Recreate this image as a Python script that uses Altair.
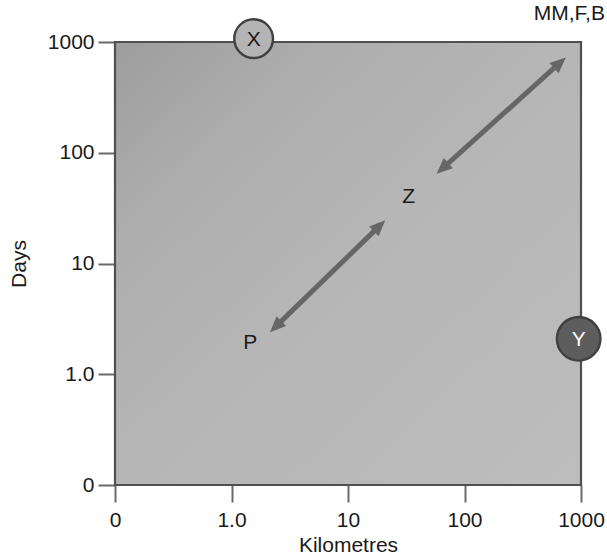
import json
import math
import altair as alt
import pandas as pd

# ---- data (log-unit positions) ----
tick_pos = [0, 1, 2, 3, 4]
x_tick_labels = ["0", "1.0", "10", "100", "1000"]
y_tick_labels = ["0", "1.0", "10", "100", "1000"]

circle_names = ["X", "Y"]
circle_x = [1.19, 3.98]
circle_y = [4.03, 1.32]
circle_fill = ["#b4b4b4", "#5d5d5d"]
circle_text_color = ["#1a1a1a", "#ffffff"]

label_names = ["Z", "P", "MM,F,B"]
label_x = [2.52, 1.16, 3.9]
label_y = [2.6, 1.28, 4.25]

arrow_x1 = [1.33, 2.76]
arrow_y1 = [1.38, 2.81]
arrow_x2 = [2.32, 3.87]
arrow_y2 = [2.39, 3.86]

W, H = 466, 443
DOM = [0, 4]
FS = 21

xs = alt.Scale(domain=DOM, nice=False, zero=False)
ys = alt.Scale(domain=DOM, nice=False, zero=False)

# background box
bg_df = pd.DataFrame({"x": [0], "x2": [4], "y": [0], "y2": [4]})
grad = alt.LinearGradient(
    gradient="linear",
    stops=[
        alt.GradientStop(offset=0, color="#9d9d9d"),
        alt.GradientStop(offset=0.22, color="#adadad"),
        alt.GradientStop(offset=0.5, color="#b6b6b6"),
        alt.GradientStop(offset=1, color="#bdbdbd"),
    ],
    x1=0, y1=0, x2=1, y2=1,
)
bg = alt.Chart(bg_df).mark_rect(color=grad, stroke="#4f4f4f", strokeWidth=2.2).encode(
    x=alt.X("x:Q", scale=xs, axis=alt.Axis(
        values=tick_pos, title="Kilometres",
        labelExpr=json.dumps(x_tick_labels) + "[datum.value]",
    )),
    x2="x2:Q",
    y=alt.Y("y:Q", scale=ys, axis=alt.Axis(
        values=tick_pos, title="Days",
        labelExpr=json.dumps(y_tick_labels) + "[datum.value]",
    )),
    y2="y2:Q",
)

# arrows
rows = []
heads = []
for a, b, c, d in zip(arrow_x1, arrow_y1, arrow_x2, arrow_y2):
    dxp = (c - a) * W / 4
    dyp = (d - b) * H / 4
    ang = math.degrees(math.atan2(dxp, dyp))  # clockwise from up
    t0, t1 = 0.09, 0.91
    rows.append({"x": a + (c - a) * t0, "y": b + (d - b) * t0,
                 "x2": a + (c - a) * t1, "y2": b + (d - b) * t1})
    heads.append({"x": c, "y": d, "angle": ang % 360})
    heads.append({"x": a, "y": b, "angle": (ang + 180) % 360})
shaft_df = pd.DataFrame(rows)
head_df = pd.DataFrame(heads)

ARROW = "#666666"
shafts = alt.Chart(shaft_df).mark_rule(color=ARROW, strokeWidth=5).encode(
    x=alt.X("x:Q", scale=xs), y=alt.Y("y:Q", scale=ys),
    x2="x2:Q", y2="y2:Q",
)
head_shape = "M0,0 L0.62,1.45 L-0.62,1.45 Z"
arrow_heads = alt.Chart(head_df).mark_point(
    shape=head_shape, filled=True, color=ARROW, opacity=1, size=480, strokeWidth=0,
).encode(
    x=alt.X("x:Q", scale=xs), y=alt.Y("y:Q", scale=ys),
    angle=alt.Angle("angle:Q", scale=None),
)

# circles
circ_df = pd.DataFrame({"name": circle_names, "x": circle_x, "y": circle_y,
                        "fill": circle_fill, "tc": circle_text_color,
                        "sz": [1500, 1900]})
circles = alt.Chart(circ_df).mark_point(
    shape="circle", filled=True, opacity=1, stroke="#404040", strokeWidth=2.4,
).encode(
    x=alt.X("x:Q", scale=xs), y=alt.Y("y:Q", scale=ys),
    fill=alt.Fill("fill:N", scale=None),
    size=alt.Size("sz:Q", scale=None),
)
circle_labels = alt.Chart(circ_df).mark_text(
    font="Liberation Sans", fontSize=FS, baseline="middle", align="center", dy=1,
).encode(
    x=alt.X("x:Q", scale=xs), y=alt.Y("y:Q", scale=ys),
    text="name:N",
    color=alt.Color("tc:N", scale=None),
)

lab_df = pd.DataFrame({"name": label_names, "x": label_x, "y": label_y})
labels = alt.Chart(lab_df).mark_text(
    font="Liberation Sans", fontSize=FS, baseline="middle", align="center",
    color="#1a1a1a",
).encode(
    x=alt.X("x:Q", scale=xs), y=alt.Y("y:Q", scale=ys),
    text="name:N",
)

chart = alt.layer(bg, shafts, arrow_heads, circles, circle_labels, labels).properties(
    width=W, height=H,
    padding={"left": 115, "top": 42, "right": 26, "bottom": 71},
    autosize=alt.AutoSizeParams(type="none"),
    background="#ffffff",
).configure_view(stroke=None).configure_axis(
    domain=False, grid=False, labelFlush=False, labelOverlap=False,
    tickColor="#6a6a6a", tickWidth=2, tickSize=17,
    labelFont="Liberation Sans", labelFontSize=FS, labelColor="#1a1a1a",
    titleFont="Liberation Sans", titleFontSize=FS, titleColor="#1a1a1a",
    titleFontWeight="normal",
).configure_axisX(labelPadding=7, titlePadding=4).configure_axisY(
    labelPadding=4, titlePadding=18,
)

chart.save("out.html", embed_options={"renderer": "svg", "actions": False})
